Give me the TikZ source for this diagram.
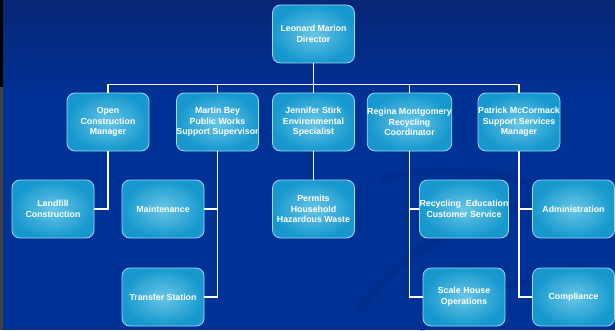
\documentclass[tikz,border=0pt]{standalone}
\usepackage{fontspec}
\setmainfont{Liberation Sans}
\usetikzlibrary{positioning}
\definecolor{bgtop}{RGB}{8,38,118}
\definecolor{bgmid}{RGB}{0,50,150}
\definecolor{swirl}{RGB}{0,40,128}
\definecolor{boxin}{RGB}{105,198,230}
\definecolor{boxout}{RGB}{22,152,206}
\definecolor{boxline}{RGB}{160,215,240}
\tikzset{
  orgbox/.style={rectangle, rounded corners=8pt, minimum width=82pt, minimum height=58pt,
    inner sep=0pt, draw=boxline, line width=0.8pt, shading=radial, inner color=boxin, outer color=boxout,
    text=white, align=center, font=\bfseries\fontsize{8.8}{10.6}\selectfont},
  link/.style={draw=white, line width=1.6pt}
}
\begin{document}
\begin{tikzpicture}[x=1pt,y=1pt]
\useasboundingbox (0,0) rectangle (615,330);
% background
\shade[top color=bgtop, bottom color=bgmid] (0,330) rectangle (615,230);
\fill[bgmid] (0,230.5) rectangle (615,0);
\begin{scope}
\clip (0,0) rectangle (615,330);
\draw[swirl, line width=9pt, opacity=0.4] (360,20) .. controls (420,110) and (560,150) .. (640,120);
\draw[swirl, line width=7pt, opacity=0.35] (380,150) .. controls (460,175) and (560,150) .. (610,100);
\draw[swirl, line width=6pt, opacity=0.3] (420,0) .. controls (480,50) and (560,60) .. (615,40);
\end{scope}
% left strip
\fill[black] (0,330) rectangle (3,243);
\fill[black!75] (0,243) rectangle (3,0);
% nodes
\node[orgbox] (dir) at (313.5,296) {Leonard Marion\\Director};
\node[orgbox] (oc) at (108,208) {Open\\Construction\\Manager};
\node[orgbox] (mb) at (217.5,208) {Martin Bey\\Public Works\\Support Supervisor};
\node[orgbox] (js) at (313.5,208) {Jennifer Stirk\\Environmental\\Specialist};
\node[orgbox] (rm) at (409.5,208) {Regina Montgomery\\Recycling\\Coordinator};
\node[orgbox] (pm) at (519,208) {Patrick McCormack\\Support Services\\Manager};
\node[orgbox] (lf) at (53,121) {Landfill\\Construction};
\node[orgbox] (mt) at (163,121) {Maintenance};
\node[orgbox] (pe) at (313.5,121) {Permits\\Household\\Hazardous Waste};
\node[orgbox] (re) at (464,121) {Recycling\ \ Education\\Customer Service};
\node[orgbox] (ad) at (573.5,121) {Administration};
\node[orgbox] (tr) at (163,33) {Transfer Station};
\node[orgbox] (sh) at (464,33) {Scale House\\Operations};
\node[orgbox] (co) at (573.5,33) {Compliance};
\coordinate (bus) at (313.5,245.5);
% connectors
\draw[link] (dir.south) -- (bus);
\draw[link] (oc.north) -- (oc.north |- bus) -- (pm.north |- bus) -- (pm.north);
\draw[link] (mb.north) -- (mb.north |- bus);
\draw[link] (js.north) -- (js.north |- bus);
\draw[link] (rm.north) -- (rm.north |- bus);
\draw[link] (oc.south) |- (lf.east);
\draw[link] (mb.south) |- (tr.east);
\draw[link] (mb.south |- mt.east) -- (mt.east);
\draw[link] (js.south) -- (pe.north);
\draw[link] (rm.south) |- (sh.west);
\draw[link] (rm.south |- re.west) -- (re.west);
\draw[link] (pm.south) |- (co.west);
\draw[link] (pm.south |- ad.west) -- (ad.west);
\end{tikzpicture}
\end{document}
